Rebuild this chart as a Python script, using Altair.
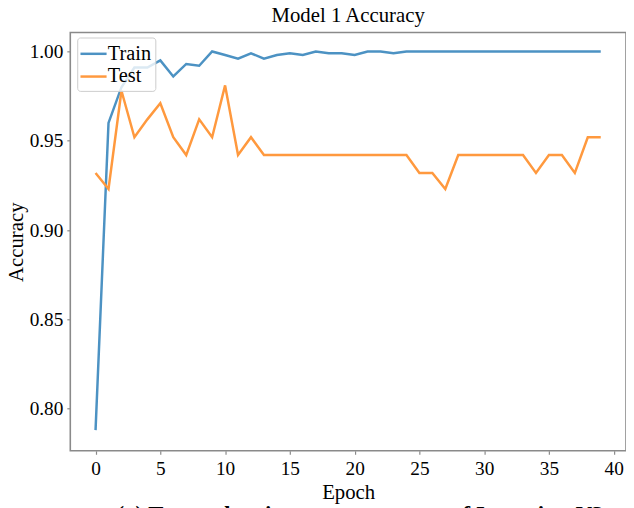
import altair as alt
import pandas as pd

epochs = list(range(40))
train_acc = [0.788, 0.960, 0.980, 0.991, 0.991, 0.995, 0.986, 0.993, 0.992, 1.000,
             0.998, 0.996, 0.999, 0.996, 0.998, 0.999, 0.998, 1.000, 0.999, 0.999,
             0.998, 1.000, 1.000, 0.999, 1.000, 1.000, 1.000, 1.000, 1.000, 1.000,
             1.000, 1.000, 1.000, 1.000, 1.000, 1.000, 1.000, 1.000, 1.000, 1.000]
test_acc = [0.932, 0.923, 0.978, 0.952, 0.962, 0.971, 0.952, 0.942, 0.962, 0.952,
            0.981, 0.942, 0.952, 0.942, 0.942, 0.942, 0.942, 0.942, 0.942, 0.942,
            0.942, 0.942, 0.942, 0.942, 0.942, 0.932, 0.932, 0.923, 0.942, 0.942,
            0.942, 0.942, 0.942, 0.942, 0.932, 0.942, 0.942, 0.932, 0.952, 0.952]
series_names = ["Train", "Test"]
series_colors = ["#4c92c3", "#ff993e"]
y_ticks = [0.80, 0.85, 0.90, 0.95, 1.00]
x_ticks = [0, 5, 10, 15, 20, 25, 30, 35, 40]
caption = "(a) Test and train accuracy curves of Inception-V3"

rows = []
for e, tr, te in zip(epochs, train_acc, test_acc):
    rows.append({"Epoch": e, "Accuracy": tr, "Series": "Train"})
    rows.append({"Epoch": e, "Accuracy": te, "Series": "Test"})
df = pd.DataFrame(rows)

FONT = "Liberation Serif"
W, H = 562, 423

lines = alt.Chart(df).mark_line(strokeWidth=2.5, clip=True).encode(
    x=alt.X("Epoch:Q",
            scale=alt.Scale(domain=[-1.95, 40.95], nice=False, zero=False),
            axis=alt.Axis(values=x_ticks, title="Epoch", format="d")),
    y=alt.Y("Accuracy:Q",
            scale=alt.Scale(domain=[0.7764, 1.0106], nice=False, zero=False),
            axis=alt.Axis(values=y_ticks, title="Accuracy", format=".2f")),
    color=alt.Color("Series:N",
                    scale=alt.Scale(domain=series_names, range=series_colors),
                    sort=series_names,
                    legend=alt.Legend(title=None, orient="none", legendX=7, legendY=5,
                                      symbolType="M-1.2,0H1.2", symbolSize=484,
                                      symbolStrokeWidth=2.5,
                                      symbolFillColor="transparent",
                                      labelFont=FONT, labelFontSize=20.5,
                                      labelColor="black", labelOffset=2,
                                      rowPadding=0, padding=4,
                                      fillColor="rgba(255,255,255,0.8)",
                                      strokeColor="#cccccc", cornerRadius=3)),
    order=alt.Order("Epoch:Q"),
)

cap = alt.Chart(pd.DataFrame({"t": [caption]})).mark_text(
    font=FONT, fontSize=23, fontWeight="bold", color="black",
    align="center", baseline="alphabetic"
).encode(text="t:N", x=alt.value(293), y=alt.value(494.5))

chart = alt.layer(lines, cap).properties(
    width=W, height=H,
    title=alt.TitleParams("Model 1 Accuracy", font=FONT, fontSize=21,
                          fontWeight="normal", color="black", offset=7),
    autosize=alt.AutoSizeParams(type="none"),
    padding={"left": 63, "top": 22, "right": 0, "bottom": 55},
).configure_view(
    stroke="#8a8a8a", strokeWidth=1.6
).configure_axis(
    domain=False, grid=False, ticks=True, tickColor="#8a8a8a", tickSize=3.5,
    tickWidth=1.2, labelFont=FONT, labelFontSize=19.5, labelColor="black",
    labelPadding=4, titleFont=FONT, titleFontSize=21, titleFontWeight="normal",
    titleColor="black"
).configure_axisX(
    labelPadding=5, titlePadding=4
).configure_axisY(
    titlePadding=3
)

chart.save("out.html", embed_options={"renderer": "svg", "actions": False})
